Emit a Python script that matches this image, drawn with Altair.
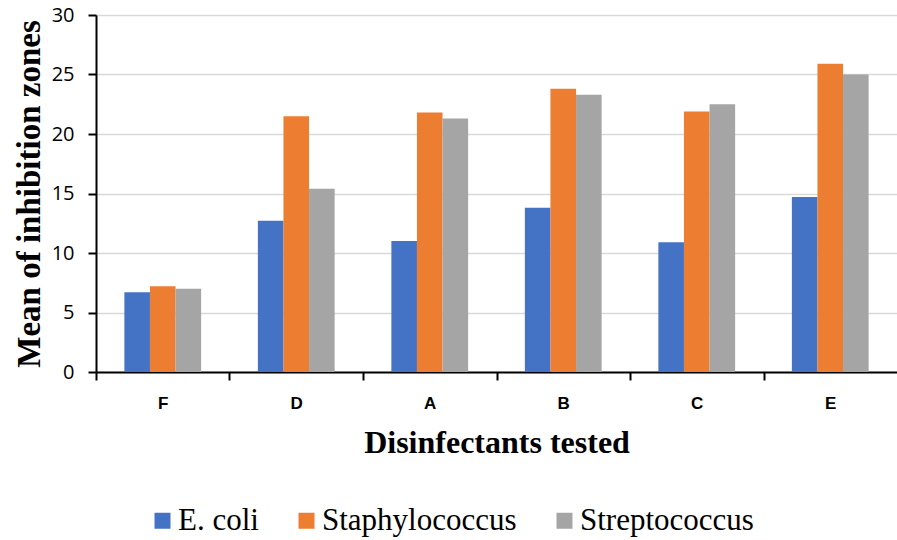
import altair as alt
import pandas as pd

categories = ["F", "D", "A", "B", "C", "E"]
series = ["E. coli", "Staphylococcus", "Streptococcus"]
ecoli = [6.7, 12.7, 11.0, 13.8, 10.9, 14.7]
staph = [7.2, 21.5, 21.8, 23.8, 21.9, 25.9]
strep = [7.0, 15.4, 21.3, 23.3, 22.5, 25.0]
colors = ["#4472C4", "#ED7D31", "#A5A5A5"]

rows = []
for i, c in enumerate(categories):
    for s, vals in zip(series, [ecoli, staph, strep]):
        rows.append({"Disinfectant": c, "Organism": s, "Value": vals[i]})
df = pd.DataFrame(rows)

W = 801
step = W / len(categories)

chart = alt.Chart(df).mark_bar().encode(
    x=alt.X(
        "Disinfectant:N",
        sort=categories,
        scale=alt.Scale(paddingInner=0.425, paddingOuter=0.2125),
        axis=alt.Axis(
            title="Disinfectants tested",
            labelAngle=0,
            labelFont="Liberation Sans",
            labelFontWeight="bold",
            labelFontSize=17,
            labelColor="#000000",
            labelPadding=15,
            tickOffset=-step / 2,
            labelOffset=step / 2,
            tickSize=8,
            tickColor="#000000",
            tickWidth=2,
            domainColor="#000000",
            domainWidth=2,
            titleFont="Times New Roman",
            titleFontWeight="bold",
            titleFontSize=32,
            titleColor="#000000",
            titlePadding=16,
        ),
    ),
    xOffset=alt.XOffset("Organism:N", sort=series),
    y=alt.Y(
        "Value:Q",
        scale=alt.Scale(domain=[0, 30]),
        axis=alt.Axis(
            title="Mean of inhibition zones",
            values=[0, 5, 10, 15, 20, 25, 30],
            labelFont="Open Sans",
            labelFontSize=20,
            labelColor="#000000",
            labelPadding=14,
            tickSize=8,
            tickColor="#000000",
            tickWidth=2,
            domainColor="#000000",
            domainWidth=2,
            gridColor="#D9D9D9",
            gridWidth=1.5,
            titleFont="Times New Roman",
            titleFontWeight="bold",
            titleFontSize=33,
            titleColor="#000000",
            titlePadding=5,
        ),
    ),
    color=alt.Color(
        "Organism:N",
        sort=series,
        scale=alt.Scale(domain=series, range=colors),
        legend=alt.Legend(
            title=None,
            orient="none",
            legendX=51,
            legendY=490,
            direction="horizontal",
            symbolType="square",
            symbolSize=256,
            symbolStrokeWidth=0,
            labelFont="Times New Roman",
            labelFontSize=31,
            labelColor="#000000",
            labelOffset=0,
            columnPadding=32,
            labelLimit=400,
        ),
    ),
).properties(
    width=W,
    height=357,
    padding={"left": 96, "top": 15, "right": 0, "bottom": 168},
    autosize=alt.AutoSizeParams(type="none"),
).configure_view(stroke=None)

chart.save("out.html", embed_options={"renderer": "svg", "actions": False})
